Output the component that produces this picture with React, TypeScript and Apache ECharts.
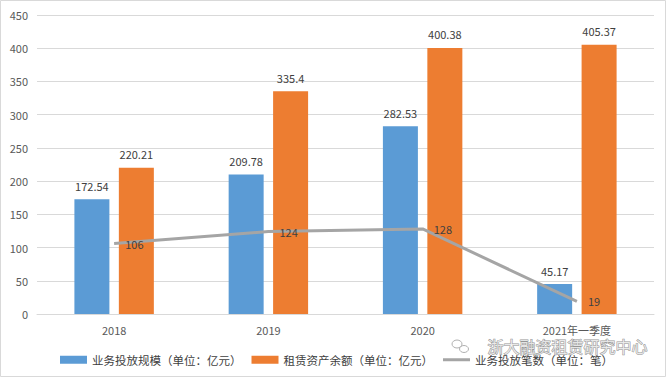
import React, { useEffect, useRef } from "react";
import * as echarts from "echarts";

const categories = ["2018", "2019", "2020", "2021年一季度"];
const scaleValues = [172.54, 209.78, 282.53, 45.17];
const balanceValues = [220.21, 335.4, 400.38, 405.37];
const countValues = [106, 124, 128, 19];
const seriesNames = ["业务投放规模（单位：亿元）", "租赁资产余额（单位：亿元）", "业务投放笔数（单位：笔）"];

export default function App() {
  const ref = useRef<HTMLDivElement>(null);
  useEffect(() => {
    if (!ref.current) return;
    const chart = echarts.init(ref.current, undefined, { renderer: "svg" });
    const font = "'Noto Sans CJK SC', 'Liberation Sans', sans-serif";
    chart.setOption({
      animation: false,
      backgroundColor: "#ffffff",
      textStyle: { fontFamily: font },
      grid: { left: 37, right: 15, top: 15, bottom: 64 },
      legend: {
        left: 55,
        top: 349,
        itemWidth: 27,
        itemHeight: 8,
        itemGap: 10,
        textStyle: { fontSize: 11.5, color: "#404040", fontFamily: font },
        data: [
          { name: seriesNames[0], icon: "rect" },
          { name: seriesNames[1], icon: "rect" },
          { name: seriesNames[2], icon: "path://M0,0 M0,2.5 L27,2.5 L27,5.5 L0,5.5 Z M27,8", itemStyle: { color: "#a5a5a5" } },
        ],
      },
      xAxis: {
        type: "category",
        data: categories,
        axisLine: { lineStyle: { color: "#d9d9d9" } },
        axisTick: { show: false },
        axisLabel: { color: "#595959", fontSize: 11, margin: 10 },
      },
      yAxis: {
        type: "value",
        min: 0,
        max: 450,
        interval: 50,
        axisLine: { show: false },
        axisTick: { show: false },
        axisLabel: { color: "#595959", fontSize: 11, margin: 9 },
        splitLine: { lineStyle: { color: "#d9d9d9" } },
      },
      series: [
        {
          name: seriesNames[0],
          type: "bar",
          data: scaleValues,
          barWidth: 35,
          barGap: "27%",
          itemStyle: { color: "#5b9bd5" },
          label: { show: true, position: "top", distance: 8, color: "#404040", fontSize: 11 },
        },
        {
          name: seriesNames[1],
          type: "bar",
          data: balanceValues,
          barWidth: 35,
          itemStyle: { color: "#ed7d31" },
          label: { show: true, position: "top", distance: 8, color: "#404040", fontSize: 11 },
        },
        {
          name: seriesNames[2],
          type: "line",
          data: countValues,
          symbol: "circle",
          symbolSize: 0.1,
          showSymbol: true,
          lineStyle: { color: "#a5a5a5", width: 3 },
          itemStyle: { color: "#a5a5a5" },
          label: { show: true, position: "right", distance: 11, color: "#404040", fontSize: 11 },
          z: 5,
        },
      ],
      graphic: [
        {
          type: "rect",
          shape: { x: 0.5, y: 0.5, width: 665, height: 376 },
          style: { fill: "none", stroke: "#d9d9d9", lineWidth: 1 },
          silent: true,
        },
        {
          type: "ellipse",
          shape: { cx: 457, cy: 344, rx: 5, ry: 4 },
          style: { fill: "rgba(255,255,255,0.6)", stroke: "#b0b0b0", lineWidth: 1 },
          z: 100,
        },
        {
          type: "ellipse",
          shape: { cx: 464, cy: 349, rx: 4.5, ry: 3.5 },
          style: { fill: "rgba(255,255,255,0.6)", stroke: "#b0b0b0", lineWidth: 1 },
          z: 100,
        },
        {
          type: "text",
          left: 487,
          top: 337,
          style: {
            text: "浙大融资租赁研究中心",
            fontSize: 16,
            fontFamily: font,
            fill: "rgba(255,255,255,0.75)",
            stroke: "rgba(120,120,120,0.8)",
            lineWidth: 1,
          },
          z: 100,
        },
      ],
    });
    return () => chart.dispose();
  }, []);
  return (
    <div
      ref={ref}
      style={{ position: "absolute", left: 0, top: 0, width: 669, height: 378 }}
    />
  );
}
